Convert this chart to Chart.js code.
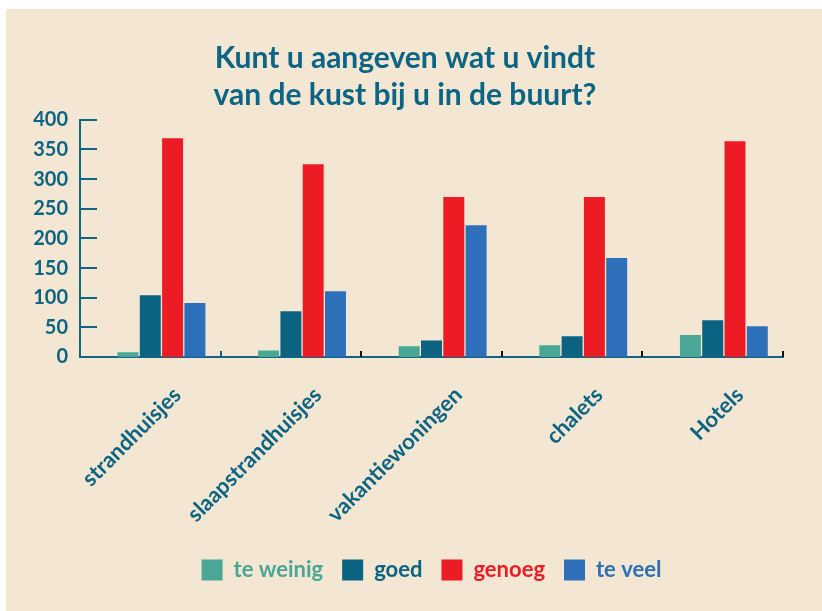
<!DOCTYPE html>
<html>
<head>
<meta charset="utf-8">
<script src="https://cdn.jsdelivr.net/npm/chart.js@4.4.0/dist/chart.umd.min.js"></script>
<style>
  html, body { margin: 0; padding: 0; background: #ffffff; }
  #wrap { position: absolute; left: 6px; top: 9px; width: 816px; height: 602px; background: #f3e7d4; }
</style>
</head>
<body>
<div id="wrap"><canvas id="chart"></canvas></div>
<script>
  const categories = ["strandhuisjes", "slaapstrandhuisjes", "vakantiewoningen", "chalets", "Hotels"];
  const teWeinig = [8, 11, 18, 20, 37];
  const goed = [104, 77, 28, 35, 62];
  const genoeg = [369, 325, 270, 270, 364];
  const teVeel = [91, 111, 222, 167, 52];
  const titleLines = ["Kunt u aangeven wat u vindt", "van de kust bij u in de buurt?"];

  const TEXT = "#0d6483";
  const AXIS = "#106583";
  const FONT = "Lato";

  // draws the short tick marks that point into the plot
  const innerTicks = {
    id: "innerTicks",
    afterDraw(chart) {
      const { ctx } = chart;
      const x = chart.scales.x;
      const y = chart.scales.y;
      ctx.save();
      ctx.lineWidth = 2;
      ctx.strokeStyle = AXIS;
      y.ticks.forEach((t) => {
        const py = Math.round(y.getPixelForValue(t.value));
        ctx.beginPath();
        ctx.moveTo(x.left, py);
        ctx.lineTo(x.left + 17, py);
        ctx.stroke();
      });
      const half = (x.getPixelForValue(1) - x.getPixelForValue(0)) / 2;
      categories.forEach((c, i) => {
        const px = Math.round(x.getPixelForValue(i) + half);
        ctx.strokeStyle = i === 0 ? AXIS : "#111111";
        ctx.beginPath();
        ctx.moveTo(px, y.bottom);
        ctx.lineTo(px, y.bottom - 6);
        ctx.stroke();
      });
      ctx.restore();
    },
  };

  window.onload = () => {
    const ctx = document.getElementById("chart").getContext("2d");

    new Chart(ctx, {
      type: "bar",
      data: {
        labels: categories,
        datasets: [
          // empty slot so the visible group sits to the right of the category centre
          { label: "", data: categories.map(() => null), backgroundColor: "rgba(0,0,0,0)" },
          { label: "te weinig", data: teWeinig, backgroundColor: "#4ba795" },
          { label: "goed", data: goed, backgroundColor: "#0b6381" },
          { label: "genoeg", data: genoeg, backgroundColor: "#ed1c24" },
          { label: "te veel", data: teVeel, backgroundColor: "#2d6fb8" },
        ],
      },
      options: {
        responsive: true,
        maintainAspectRatio: false,
        animation: false,
        categoryPercentage: 0.793,
        barPercentage: 0.94,
        layout: { padding: { top: 0, left: 21, right: 39, bottom: 20 } },
        plugins: {
          tooltip: { enabled: false },
          title: {
            display: true,
            text: titleLines,
            color: TEXT,
            font: { family: FONT, size: 30, weight: "bold", lineHeight: 1.23 },
            padding: { top: 31, bottom: 6 },
          },
          legend: {
            position: "bottom",
            fullSize: false,
            labels: {
              boxWidth: 21,
              boxHeight: 21,
              padding: 19,
              font: { family: FONT, size: 22, weight: "bold" },
              generateLabels(chart) {
                const items = Chart.defaults.plugins.legend.labels.generateLabels(chart);
                return items
                  .filter((it) => it.datasetIndex > 0)
                  .map((it) => ({ ...it, fontColor: it.fillStyle, lineWidth: 0 }));
              },
            },
          },
        },
        scales: {
          x: {
            grid: { display: false, drawTicks: false },
            border: { display: true, color: AXIS, width: 2 },
            ticks: {
              color: TEXT,
              font: { family: FONT, size: 22, weight: "bold" },
              maxRotation: 45,
              minRotation: 45,
              padding: 25,
              labelOffset: 27,
            },
            afterFit(scale) {
              scale.height = 183;
            },
          },
          y: {
            min: 0,
            max: 400,
            grid: { display: false, drawTicks: false },
            border: { display: true, color: AXIS, width: 2 },
            ticks: {
              stepSize: 50,
              color: TEXT,
              font: { family: FONT, size: 20, weight: "bold" },
              padding: 12,
            },
            afterFit(scale) {
              scale.width = 53;
            },
          },
        },
      },
      plugins: [innerTicks],
    });
  };
</script>
</body>
</html>
